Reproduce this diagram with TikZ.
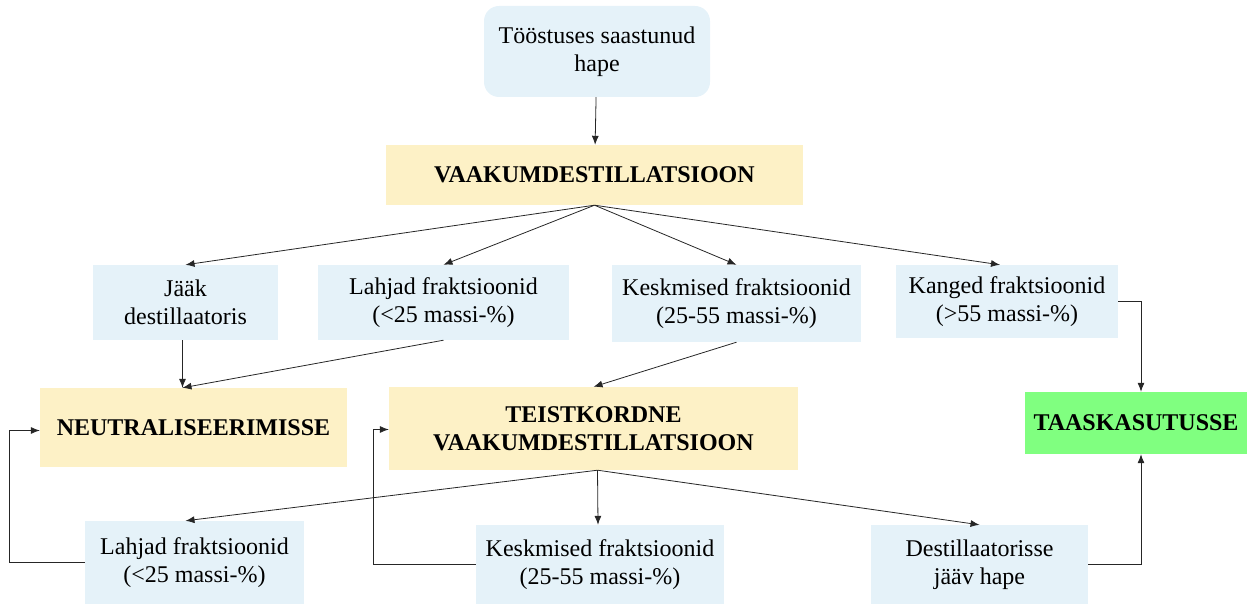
\documentclass[tikz,border=0pt]{standalone}
\usepackage{fontspec}
\setmainfont{Liberation Serif}
\usepackage{tikz}
\usetikzlibrary{arrows.meta, positioning, calc}
\usepackage{xcolor}
\definecolor{PaleBlue}{HTML}{E5F2F9}
\definecolor{PaleSand}{HTML}{FDF1C6}
\definecolor{Mint}{HTML}{80FF80}

\tikzset{
  bluebox/.style={fill=PaleBlue, align=center, inner sep=0pt, font=\fontsize{24}{28}\selectfont},
  sandbox/.style={fill=PaleSand, align=center, inner sep=0pt, font=\fontsize{24}{28}\selectfont\bfseries},
  flow/.style={->, line width=0.8pt, black!85},
  >={Latex[length=9pt,width=7pt]}
}

\begin{document}
\begin{tikzpicture}[x=1pt, y=-1pt]
        \useasboundingbox (0,0) rectangle (1247,604);
        % start and first distillation
        \node (acid) at (597,51.5) [bluebox, rounded corners=15pt, minimum width=226pt, minimum height=91pt] {Tööstuses saastunud\\hape};
        \node (vak) at (594.5,175) [sandbox, minimum width=417pt, minimum height=60pt] {VAAKUMDESTILLATSIOON};
        % fractions
        \node (jaak) at (185.5,302.5) [bluebox, minimum width=185pt, minimum height=75pt] {Jääk\\destillaatoris};
        \node (lahjadA) at (443.5,302.5) [bluebox, minimum width=251pt, minimum height=75pt] {Lahjad fraktsioonid\\(<25 massi-\%)};
        \node (keskA) at (736.5,303.5) [bluebox, minimum width=249pt, minimum height=77pt] {Keskmised fraktsioonid\\(25-55 massi-\%)};
        \node (kanged) at (1007,301.5) [bluebox, minimum width=222pt, minimum height=73pt] {Kanged fraktsioonid\\(>55 massi-\%)};
        % destinations
        \node (neut) at (193.5,427.5) [sandbox, minimum width=307pt, minimum height=79pt] {NEUTRALISEERIMISSE};
        \node (teist) at (593.5,428.5) [sandbox, minimum width=409pt, minimum height=83pt] {TEISTKORDNE\\VAAKUMDESTILLATSIOON};
        \node (taas) at (1136,423) [fill=Mint, font=\fontsize{24}{28}\selectfont\bfseries, inner sep=0pt, minimum width=222pt, minimum height=62pt] {TAASKASUTUSSE};
        % second distillation
        \node (lahjadB) at (194.5,562.5) [bluebox, minimum width=219pt, minimum height=83pt] {Lahjad fraktsioonid\\(<25 massi-\%)};
        \node (keskB) at (600,564.5) [bluebox, minimum width=248pt, minimum height=79pt] {Keskmised fraktsioonid\\(25-55 massi-\%)};
        \node (dest) at (979.5,564.5) [bluebox, minimum width=217pt, minimum height=79pt] {Destillaatorisse\\jääv hape};

        \draw[flow] (acid) -- (vak);
        \draw[flow] (vak.south) -- (jaak.north);
        \draw[flow] (vak.south) -- (lahjadA.north);
        \draw[flow] (vak.south) -- (keskA.north);
        \draw[flow] (vak.south) -- ([xshift=-7pt]kanged.north);
        \coordinate (neutin) at ($(neut.north)+(-11,0)$);
        \draw[flow] (jaak.south -| neutin) -- (neutin);
        \draw[flow] (lahjadA.south) -- (neutin);
        \draw[flow] (keskA.south) -- (teist.north);
        \draw[flow] (kanged.east) -| ([xshift=5pt]taas.north);
        \draw[flow] ([xshift=4pt]teist.south) -- ([xshift=-9pt]lahjadB.north);
        \draw[flow] ([xshift=4pt]teist.south) -- ([xshift=-2pt]keskB.north);
        \draw[flow] ([xshift=4pt]teist.south) -- (dest.north);
        \draw[flow] (lahjadB.west) -- ++(-75,0) |- ([yshift=-3pt]neut.west);
        \draw[flow] (keskB.west) -- ++(-102,0) |- ([yshift=-1pt]teist.west);
        \draw[flow] (dest.east) -| ([xshift=5pt]taas.south);
    \end{tikzpicture}
\end{document}
